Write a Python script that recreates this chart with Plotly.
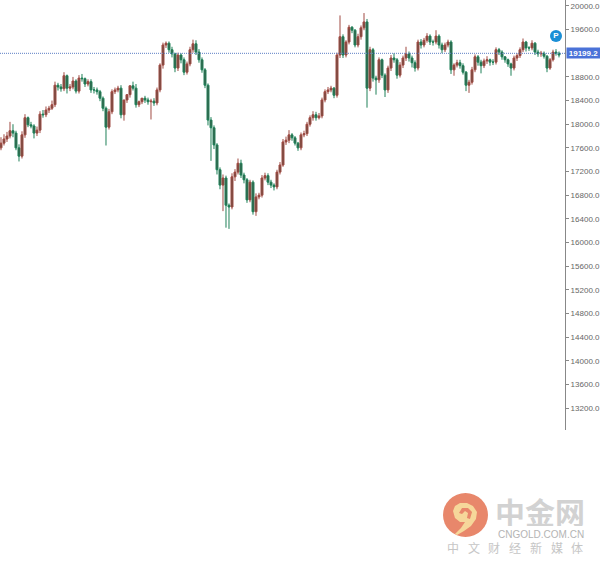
import plotly.graph_objects as go

opens = [
17600,17680,17750,17800,17890,17850,17600,17460,17820,18110,
17990,17970,17850,17900,18170,18160,18240,18270,18330,18660,
18630,18600,18820,18610,18630,18730,18560,18780,18770,18680,
18720,18580,18580,18550,18440,18270,17950,18210,18550,18580,
18610,18160,18410,18500,18650,18610,18330,18380,18440,18410,
18380,18390,18360,18580,19000,19340,19370,19260,19190,18950,
19170,19090,18880,19020,19260,19360,19220,19090,18920,18660,
18070,17940,17650,17230,16970,17090,16630,16600,17110,17190,
17340,17140,17060,16720,17020,16520,16770,16800,17090,17130,
17020,16970,16940,17190,17310,17700,17730,17820,17770,17680,
17600,17820,17840,18000,18110,18160,18110,18140,18410,18550,
18580,18610,18490,19170,19480,19170,19390,19640,19590,19340,
19480,19630,19730,18610,19260,18780,18750,19090,18830,18580,
18950,19120,19090,18830,19000,19120,19190,19120,19040,18950,
19390,19340,19420,19490,19390,19390,19490,19340,19260,19340,
19390,18920,19000,19040,18990,18880,18660,18710,18920,19140,
19050,18990,19070,19090,19050,19050,19260,19220,19140,19090,
19020,18950,19120,19160,19260,19390,19290,19290,19370,19220,
19190,19200,19150,18950,19090,19220,19200]
highs = [
17780,17830,17870,18040,18000,17890,17660,17880,18170,18130,
18040,18000,17960,18220,18240,18300,18310,18400,18720,18700,
18680,18880,18840,18680,18800,18760,18830,18850,18790,18760,
18760,18630,18620,18580,18470,18300,18260,18590,18620,18650,
18660,18200,18450,18560,18720,18680,18400,18430,18480,18450,
18430,18440,18620,19030,19380,19400,19400,19310,19210,19210,
19200,19130,19060,19310,19430,19420,19270,19130,18950,18690,
18120,17980,17680,17270,17150,17130,16660,17170,17240,17420,
17400,17180,17090,17060,17050,16830,16840,17140,17180,17170,
17060,17000,17230,17360,17750,17790,17900,17850,17800,17700,
17860,17890,18040,18150,18220,18210,18190,18450,18590,18630,
18650,18630,19210,19840,19520,19420,19680,19660,19610,19530,
19670,19880,19780,19310,19290,18820,19130,19110,18860,18990,
19170,19200,19120,19050,19160,19310,19230,19160,19080,19430,
19440,19460,19540,19520,19430,19590,19520,19380,19380,19430,
19420,19030,19090,19090,19030,18900,18750,18970,19180,19170,
19090,19110,19150,19110,19100,19300,19290,19250,19150,19110,
19040,19160,19200,19300,19450,19410,19320,19420,19390,19260,
19240,19230,19170,19120,19260,19270,19230]
lows = [
17560,17640,17700,17760,17780,17560,17370,17420,17770,17950,
17930,17760,17800,17850,18110,18120,18190,18240,18290,18570,
18550,18560,18520,18560,18590,18520,18520,18720,18630,18640,
18530,18520,18500,18390,18220,17640,17910,18170,18510,18540,
18100,18060,18360,18450,18570,18280,18290,18340,18360,18330,
18080,18310,18320,18540,18940,19290,19210,19130,18880,18900,
19030,18830,18840,18980,19210,19170,19040,18870,18610,17980,
17380,17580,17150,16900,16530,16250,16230,16560,17040,17150,
17090,17000,16670,16680,16470,16450,16730,16760,17050,16970,
16920,16880,16900,17150,17280,17650,17680,17720,17640,17550,
17560,17780,17800,17960,18060,18060,18080,18100,18370,18510,
18540,18440,18450,19120,19120,19130,19350,19540,19300,19300,
19430,19590,18280,18560,18720,18500,18700,18780,18460,18530,
18900,19040,18770,18790,18950,19070,19060,18960,18890,18910,
19280,19300,19380,19340,19330,19350,19280,19200,19220,19300,
18850,18820,18960,18940,18840,18560,18530,18670,18880,18990,
18860,18950,19020,18990,19000,19010,19170,19090,19040,18970,
18820,18910,19070,19120,19220,19230,19240,19250,19170,19140,
19140,19110,18880,18920,19060,19160,19130]
closes = [
17680,17750,17800,17890,17850,17600,17460,17820,18110,17990,
17970,17850,17900,18170,18160,18240,18270,18330,18660,18630,
18600,18820,18610,18630,18730,18560,18780,18770,18680,18720,
18580,18580,18550,18440,18270,17950,18210,18550,18580,18610,
18160,18410,18500,18650,18610,18330,18380,18440,18410,18380,
18390,18360,18580,19000,19340,19370,19260,19190,18950,19170,
19090,18880,19020,19260,19360,19220,19090,18920,18660,18070,
17940,17650,17230,16970,17090,16630,16600,17110,17190,17340,
17140,17060,16720,17020,16520,16770,16800,17090,17130,17020,
16970,16940,17190,17310,17700,17730,17820,17770,17680,17600,
17820,17840,18000,18110,18160,18110,18140,18410,18550,18580,
18610,18490,19170,19480,19170,19390,19640,19590,19340,19480,
19630,19730,18610,19260,18780,18750,19090,18830,18580,18950,
19120,19090,18830,19000,19120,19190,19120,19040,18950,19390,
19340,19420,19490,19390,19390,19490,19340,19260,19340,19390,
18920,19000,19040,18990,18880,18660,18710,18920,19140,19050,
18990,19070,19090,19050,19050,19260,19220,19140,19090,19020,
18950,19120,19160,19260,19390,19290,19290,19370,19220,19190,
19200,19150,18950,19090,19220,19200,19170]
tick_values = [20000,19600,18800,18400,18000,17600,17200,16800,16400,16000,
               15600,15200,14800,14400,14000,13600,13200]
last_price = 19199.2
badge_price = 19493
badge_index = 185

W, H = 600, 565
def px(x): return x / W
def py(y): return 1 - y / H

x = list(range(len(closes)))
fig = go.Figure()
fig.add_trace(go.Candlestick(
    x=x, open=opens, high=highs, low=lows, close=closes,
    increasing=dict(line=dict(color="#a04a42", width=1), fillcolor="#6a4c42"),
    decreasing=dict(line=dict(color="#1f8058", width=1), fillcolor="#3a5c4a"),
    whiskerwidth=0, hoverinfo="skip", showlegend=False))
fig.add_trace(go.Scatter(
    x=[badge_index], y=[badge_price], mode="markers+text", text=["<b>P</b>"],
    textposition="middle center", textfont=dict(color="white", size=8, family="Liberation Sans"),
    marker=dict(size=12, color="#1b8fd6"), hoverinfo="skip", showlegend=False))

shapes = [
    dict(type="line", xref="x domain", x0=0, x1=1, yref="y", y0=last_price, y1=last_price,
         line=dict(color="#5b7fc4", width=1, dash="1px,1px")),
    dict(type="circle", xref="paper", yref="paper", x0=px(443), x1=px(488), y0=py(537), y1=py(493),
         line=dict(width=0), fillcolor="#e8876b"),
]
def path(points, close=True):
    s = "M " + " L ".join(f"{px(a):.4f},{py(b):.4f}" for a, b in points)
    return s + (" Z" if close else "")
swirl = [(453,511),(455,506),(460,503),(467,503),(473,506),(477,512),(476,519),(471,526),
         (464,531),(457,535),(455,534),(461,528),(465,522),(460,522),(455,518)]
hole = [(459,513),(462,508),(468,508),(472,512),(470,519),(467,518),(468,513),(465,511),(462,514)]
shapes.append(dict(type="path", xref="paper", yref="paper", path=path(swirl),
                   line=dict(width=0), fillcolor="#f6d79a"))
shapes.append(dict(type="path", xref="paper", yref="paper", path=path(hole),
                   line=dict(width=0), fillcolor="#e8876b"))

annotations = [
    dict(xref="paper", yref="y", x=px(566), y=last_price, xanchor="left", yanchor="middle",
         text="<b>19199.2</b>", showarrow=False, bgcolor="#4a72d8", width=33, height=10, borderpad=0,
         font=dict(color="white", size=8, family="Liberation Sans")),
    dict(xref="paper", yref="paper", x=px(540), y=py(511), xanchor="center", yanchor="middle",
         text="<b>中金网</b>", showarrow=False, height=30,
         font=dict(color="#d2d2d2", size=30, family="Noto Sans CJK SC")),
    dict(xref="paper", yref="paper", x=px(540.5), y=py(534), xanchor="center", yanchor="middle",
         text="CNGOLD.COM.CN", showarrow=False,
         font=dict(color="#b4b4b4", size=10, family="Liberation Sans")),
]
for i, ch in enumerate("中文财经新媒体"):
    annotations.append(dict(xref="paper", yref="paper", x=px(453 + i * 20.7), y=py(547),
                            xanchor="center", yanchor="middle", text=ch, showarrow=False,
                            font=dict(color="#c6c6c6", size=12, family="Noto Sans CJK SC")))

fig.update_layout(
    width=W, height=H, margin=dict(l=0, r=0, t=0, b=0),
    paper_bgcolor="white", plot_bgcolor="white", showlegend=False, boxgap=0.05,
    shapes=shapes, annotations=annotations,
    xaxis=dict(domain=[0, 565 / W], range=[-0.33, 188], visible=False, automargin=False,
               rangeslider=dict(visible=False)),
    yaxis=dict(domain=[py(430), 1], range=[12828, 20101], side="right", showgrid=False, zeroline=False,
               automargin=False, showline=True, linecolor="#888888", linewidth=1, ticks="outside", ticklen=3,
               tickcolor="#888888", tickvals=tick_values, ticktext=[f"{v:.1f}" for v in tick_values],
               tickfont=dict(size=8, color="#666666", family="Liberation Sans")),
)
fig.write_html("out.html", config=dict(displayModeBar=False),
               post_script="document.body.style.margin='0';")
